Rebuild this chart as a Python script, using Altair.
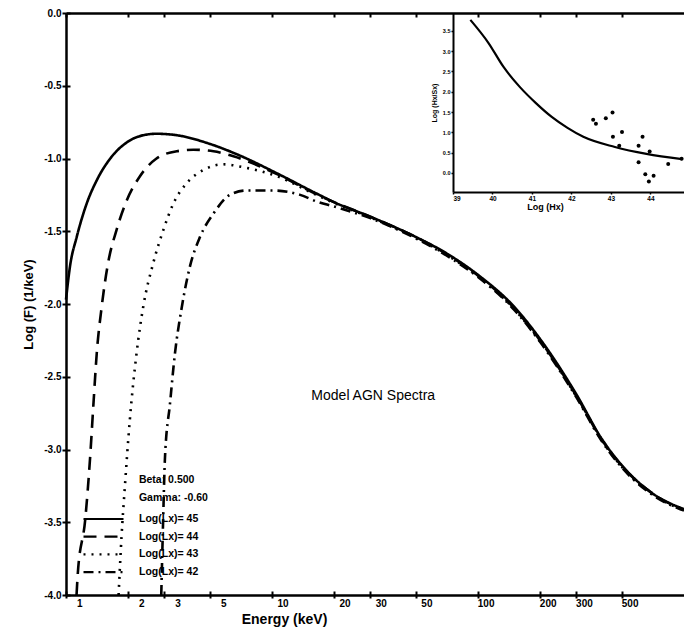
import altair as alt
import pandas as pd

# ---------------- main spectra (Energy keV, Log F) ----------------
SERIES = ["45", "44", "43", "42"]

E_45 = [1.0, 1.046, 1.127, 1.26, 1.41, 1.64, 1.97, 2.37, 2.75, 3.45, 5.0, 7.25, 10.5, 16.4]
F_45 = [-1.97, -1.74, -1.54, -1.31, -1.15, -1.00, -0.89, -0.84, -0.83, -0.84, -0.90, -0.99, -1.10, -1.24]

E_44 = [1.125, 1.14, 1.24, 1.31, 1.36, 1.41, 1.49, 1.60, 1.76, 1.97, 2.29, 2.75, 3.45, 4.15, 5.2, 6.5, 10.5, 16.4]
F_44 = [-4.0, -3.86, -3.48, -3.05, -2.68, -2.34, -2.02, -1.72, -1.49, -1.29, -1.12, -1.00, -0.95, -0.94, -0.95, -0.985, -1.105, -1.245]

E_43 = [1.80, 1.86, 1.93, 2.04, 2.20, 2.37, 2.65, 2.97, 3.32, 3.85, 4.63, 5.8, 7.25, 10.5, 16.4]
F_43 = [-4.0, -3.6, -3.26, -2.80, -2.34, -2.02, -1.72, -1.49, -1.31, -1.17, -1.08, -1.04, -1.06, -1.12, -1.25]

E_42 = [2.90, 2.96, 3.02, 3.2, 3.38, 3.65, 4.0, 4.47, 5.19, 6.25, 7.53, 10.1, 13.7, 16.8]
F_42 = [-4.0, -3.5, -3.07, -2.68, -2.34, -2.02, -1.74, -1.54, -1.38, -1.25, -1.22, -1.22, -1.25, -1.30]

TAIL_E = [20, 30, 50, 70, 100, 150, 200, 300, 400, 500, 700, 1000]
TAIL_45 = [-1.30, -1.40, -1.54, -1.65, -1.80, -2.02, -2.24, -2.62, -2.93, -3.11, -3.30, -3.41]
TAIL_44 = [-1.30, -1.40, -1.54, -1.655, -1.805, -2.03, -2.25, -2.63, -2.935, -3.115, -3.30, -3.415]
TAIL_43 = [-1.305, -1.405, -1.545, -1.66, -1.81, -2.035, -2.255, -2.635, -2.94, -3.12, -3.305, -3.42]
TAIL_42 = [-1.33, -1.41, -1.55, -1.665, -1.815, -2.04, -2.26, -2.64, -2.945, -3.125, -3.31, -3.42]

X_TICKS = [1, 2, 3, 5, 10, 20, 30, 50, 100, 200, 300, 500]
Y_TICKS = [0.0, -0.5, -1.0, -1.5, -2.0, -2.5, -3.0, -3.5, -4.0]

# ---------------- inset ----------------
HX = [39.44, 39.9, 40.28, 40.69, 41.1, 41.5, 41.9, 42.3, 43.1, 43.9, 44.8]
HS = [3.77, 3.2, 2.61, 2.12, 1.72, 1.38, 1.11, 0.89, 0.64, 0.47, 0.34]
PX = [42.55, 42.62, 42.87, 43.04, 43.05, 43.28, 43.21, 43.70, 43.80, 43.70, 43.98, 44.45, 43.87, 43.96, 44.08, 44.79]
PY = [1.31, 1.21, 1.35, 1.49, 0.89, 1.01, 0.67, 0.67, 0.89, 0.26, 0.53, 0.22, -0.03, -0.21, -0.07, 0.35]
INSET_X_TICKS = [39, 40, 41, 42, 43, 44]
INSET_Y_TICKS = [0.0, 0.5, 1.0, 1.5, 2.0, 2.5, 3.0, 3.5]

# ---------------- annotations ----------------
PARAM_LINES = ["Beta: 0.500", "Gamma: -0.60"]
PARAM_E = [2.26, 2.26]
PARAM_F = [-3.21, -3.335]
TITLE_TEXT = ["Model AGN Spectra"]
TITLE_E = [31.0]
TITLE_F = [-2.63]

heads = {"45": (E_45, F_45, TAIL_45), "44": (E_44, F_44, TAIL_44),
         "43": (E_43, F_43, TAIL_43), "42": (E_42, F_42, TAIL_42)}
rows = []
for s in SERIES:
    E, F, T = heads[s]
    for e, f in zip(E + TAIL_E, F + T):
        rows.append({"E": e, "F": f, "Lx": s})
df = pd.DataFrame(rows)

inset_line = pd.DataFrame({"Hx": HX, "R": HS})
inset_pts = pd.DataFrame({"Hx": PX, "R": PY})
params = pd.DataFrame({"E": PARAM_E, "F": PARAM_F, "t": PARAM_LINES})
title_df = pd.DataFrame({"E": TITLE_E, "F": TITLE_F, "t": TITLE_TEXT})

W, H = 618, 582
FONT = "Liberation Sans"

def xs():
    return alt.Scale(type="log", domain=[1, 1000], nice=False)

def ys():
    return alt.Scale(domain=[-4, 0], nice=False, zero=False)

minus_fix = "replace(format(datum.value, '.1f'), '\u2212', '-')"

main = alt.Chart(df).mark_line(color="black", strokeWidth=2.6, interpolate="monotone").encode(
    x=alt.X("E:Q", scale=xs(), axis=alt.Axis(
        orient="bottom", values=X_TICKS, labelExpr="format(datum.value, '~g')",
        labelAlign="right", labelOffset=16, labelPadding=0, tickSize=3,
        title="Energy (keV)", titleX=218, titleY=24, titleBaseline="middle",
        titleFontSize=14, titleFontWeight="bold", titleFont=FONT,
        labelFont=FONT, labelFontSize=10, labelFontWeight="bold",
        domainWidth=2.5, tickWidth=2, grid=False)),
    y=alt.Y("F:Q", scale=ys(), axis=alt.Axis(
        orient="left", values=Y_TICKS, labelExpr=minus_fix, tickSize=4, labelPadding=1,
        title="Log (F) (1/keV)", titleFontSize=13, titleFontWeight="bold", titleFont=FONT,
        titlePadding=8, labelFont=FONT, labelFontSize=10, labelFontWeight="bold",
        domainWidth=2.5, tickWidth=2, grid=False)),
    strokeDash=alt.StrokeDash("Lx:N", scale=alt.Scale(
        domain=SERIES, range=[[1, 0], [13, 8], [2, 6], [10, 5, 2, 5]]),
        sort=SERIES,
        legend=alt.Legend(orient="none", legendX=16, legendY=498, title=None,
                          symbolType="stroke", symbolSize=1600, symbolStrokeWidth=2.2,
                          symbolStrokeColor="black", labelFont=FONT, labelFontSize=10.5,
                          labelFontWeight="bold", labelExpr="'Log(Lx)= ' + datum.label",
                          clipHeight=16, rowPadding=1.7, labelOffset=14, padding=0)),
)

# top border with inward ticks, and inward ticks on the left axis
helper_top = alt.Chart(df).mark_point(opacity=0).encode(
    x=alt.X("E:Q", scale=xs(), axis=alt.Axis(
        orient="bottom", offset=-H, values=X_TICKS, labels=False, tickSize=4,
        title=None, domainWidth=2.5, tickWidth=2, grid=False)),
    y=alt.Y("F:Q", scale=ys(), axis=alt.Axis(
        orient="right", offset=-W, values=Y_TICKS, labels=False, tickSize=4,
        domain=False, title=None, tickWidth=2, grid=False)),
)

# inward ticks on the bottom axis
helper_bottom = alt.Chart(df).mark_point(opacity=0).encode(
    x=alt.X("E:Q", scale=xs(), axis=alt.Axis(
        orient="top", offset=-H, values=X_TICKS, labels=False, tickSize=4,
        domain=False, title=None, tickWidth=2, grid=False)),
    y=alt.Y("F:Q", scale=ys(), axis=None),
)

def ixs():
    return alt.Scale(domain=[39, 44.85], range=[387, W], nice=False, zero=False)

def iys():
    return alt.Scale(domain=[-0.47, 3.94], range=[179, 0], nice=False, zero=False)

inset = alt.Chart(inset_line).mark_line(color="black", strokeWidth=2.2, interpolate="monotone").encode(
    x=alt.X("Hx:Q", scale=ixs(), axis=alt.Axis(
        orient="bottom", offset=179 - H, values=INSET_X_TICKS, format="d",
        labelFont=FONT, labelFontSize=6.5, labelFontWeight="bold", labelPadding=1,
        tickSize=2, domainWidth=2, tickWidth=1.5, grid=False,
        title="Log (Hx)", titleX=479, titleY=14, titleBaseline="middle",
        titleFont=FONT, titleFontSize=9, titleFontWeight="bold")),
    y=alt.Y("R:Q", scale=iys(), axis=alt.Axis(
        orient="left", offset=-387, values=INSET_Y_TICKS, format=".1f",
        labelFont=FONT, labelFontSize=5.5, labelFontWeight="bold", labelPadding=1,
        tickSize=2, domainWidth=2, tickWidth=1.5, grid=False,
        title="Log (Hx/Sx)", titleFont=FONT, titleFontSize=7, titleFontWeight="bold",
        titlePadding=5)),
)

inset_points = alt.Chart(inset_pts).mark_circle(color="black", size=16, opacity=1).encode(
    x=alt.X("Hx:Q", scale=ixs(), axis=None),
    y=alt.Y("R:Q", scale=iys(), axis=None),
)

param_text = alt.Chart(params).mark_text(align="left", baseline="middle", font=FONT,
                                         fontSize=10.5, fontWeight="bold", color="black").encode(
    x=alt.X("E:Q", scale=xs(), axis=None),
    y=alt.Y("F:Q", scale=ys(), axis=None),
    text="t:N",
)

title_text = alt.Chart(title_df).mark_text(align="center", baseline="middle", font=FONT,
                                           fontSize=14, color="black").encode(
    x=alt.X("E:Q", scale=xs(), axis=None),
    y=alt.Y("F:Q", scale=ys(), axis=None),
    text="t:N",
)

chart = alt.layer(main, helper_top, helper_bottom, inset, inset_points, param_text, title_text).resolve_scale(
    x="independent", y="independent"
).properties(
    width=W, height=H,
    autosize=alt.AutoSizeParams(type="none"),
    padding={"left": 58, "top": 5, "right": 0, "bottom": 34},
).configure_view(stroke=None).configure_axis(
    domainColor="black", tickColor="black", labelColor="black", titleColor="black"
)

chart.save("out.html", embed_options={"renderer": "svg", "actions": False})
